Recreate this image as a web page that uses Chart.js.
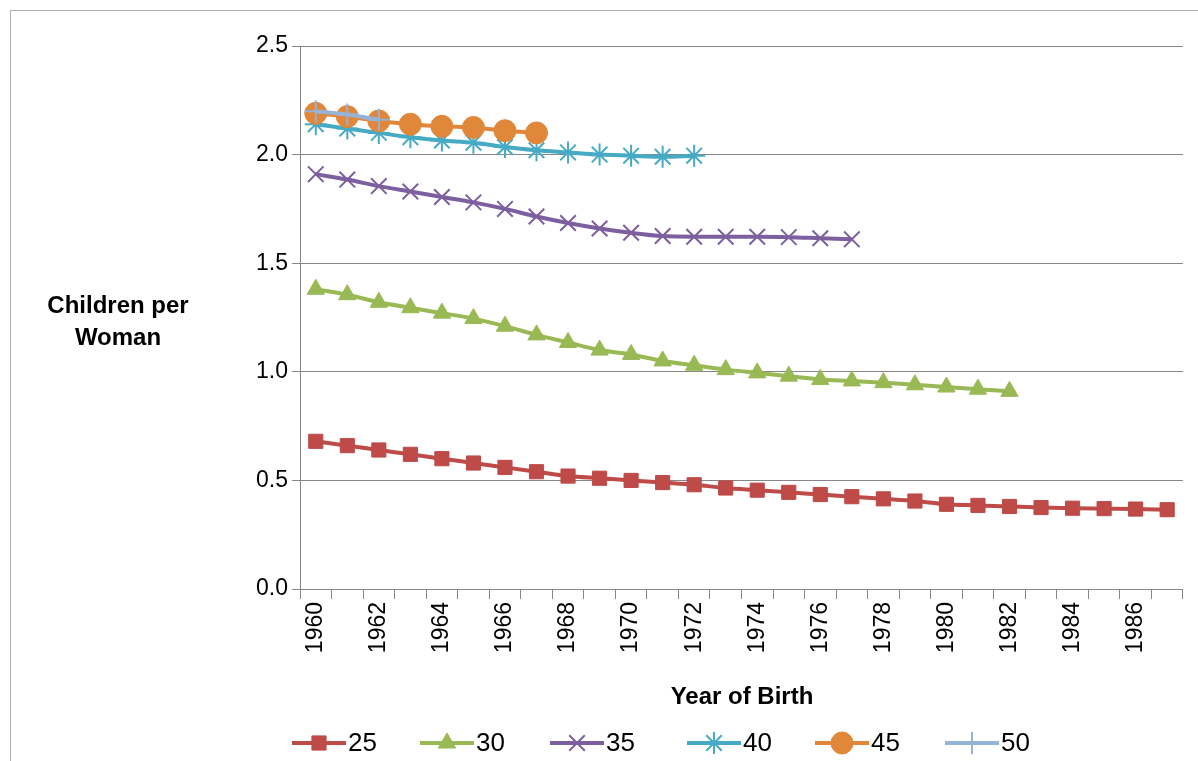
<!DOCTYPE html>
<html><head><meta charset="utf-8">
<script src="https://cdn.jsdelivr.net/npm/chart.js@4/dist/chart.umd.min.js"></script>
<style>html,body{margin:0;padding:0;background:#fff}#wrap{position:absolute;left:0;top:0;width:1198px;height:761px}
#frame{position:absolute;left:10px;top:10px;width:1188px;height:751px;border-left:1px solid #b0b0b0;border-top:1px solid #b0b0b0;pointer-events:none}</style>
</head><body><div id="wrap"><canvas id="c" width="1198" height="761"></canvas><div id="frame"></div></div>
<script>
const years = [];
for (let y = 1960; y <= 1987; y++) years.push(String(y));
const s25 = [0.68,0.66,0.64,0.62,0.60,0.58,0.56,0.54,0.52,0.51,0.50,0.49,0.48,0.465,0.455,0.445,0.435,0.425,0.415,0.405,0.39,0.385,0.38,0.375,0.372,0.37,0.368,0.365];
const s30 = [1.38,1.355,1.32,1.295,1.27,1.245,1.21,1.17,1.135,1.10,1.08,1.05,1.03,1.01,0.995,0.98,0.965,0.958,0.95,0.94,0.93,0.92,0.91];
const s35 = [1.91,1.885,1.855,1.83,1.805,1.78,1.75,1.715,1.685,1.66,1.64,1.625,1.622,1.622,1.622,1.62,1.615,1.61];
const s40 = [2.14,2.12,2.10,2.08,2.065,2.055,2.035,2.02,2.01,2.0,1.995,1.99,1.995];
const s45 = [2.19,2.175,2.155,2.14,2.13,2.125,2.11,2.10];
const s50 = [2.20,2.185,2.16];
const seriesNames = ['25','30','35','40','45','50'];
const yTicks = [0,0.5,1.0,1.5,2.0,2.5];

const colors = ['#BE4B48','#98B954','#7D5FA0','#46AAC5','#E0873A','#95B3D7'];
const styles = ['rect','triangle','crossRot','star','circle','cross'];
const radii = [10,10,11,11,11,11];
const data = [s25,s30,s35,s40,s45,s50];
const bw = i => (i==2||i==3||i==5)?2:1;
const datasets = data.map((d,i)=>({
  label: seriesNames[i], data: d, borderColor: colors[i], backgroundColor: colors[i],
  borderWidth: 4, pointStyle: styles[i], pointRadius: radii[i], pointBorderWidth: bw(i),
  pointBorderColor: colors[i], cubicInterpolationMode:'monotone', fill:false, order: 6-i
}));

const font = 'Arial, "Liberation Sans", sans-serif';
const deco = {
  id:'deco',
  afterDraw(chart){
    const ctx = chart.ctx;
    ctx.save();
    ctx.fillStyle = '#000';
    ctx.font = 'bold 24px ' + font;
    ctx.textAlign = 'center'; ctx.textBaseline = 'middle';
    ctx.fillText('Children per', 118, 306);
    ctx.fillText('Woman', 118, 338);
    ctx.fillText('Year of Birth', 742, 697);
    const xs = [292,420,550,687,815,945];
    const ly = 743;
    ctx.font = '26px ' + font; ctx.textAlign='left';
    xs.forEach((x,i)=>{
      ctx.strokeStyle = colors[i]; ctx.lineWidth = 4;
      ctx.beginPath(); ctx.moveTo(x,ly); ctx.lineTo(x+54,ly); ctx.stroke();
      ctx.fillStyle = colors[i]; ctx.strokeStyle=colors[i]; ctx.lineWidth = bw(i);
      Chart.helpers.drawPoint(ctx,{pointStyle:styles[i],radius:radii[i],borderWidth:bw(i)},x+27,ly);
      ctx.fillStyle = '#000';
      ctx.fillText(seriesNames[i], x+56, ly+1);
    });
    ctx.restore();
  }
};

new Chart(document.getElementById('c'), {
  type:'line',
  data:{labels: years, datasets},
  options:{
    responsive:false, animation:false,
    layout:{padding:{top:46,right:13,left:0,bottom:0}},
    plugins:{legend:{display:false}, tooltip:{enabled:false}},
    scales:{
      x:{
        offset:true,
        grid:{display:true, drawOnChartArea:false, offset:true, color:'#868686', tickLength:10, lineWidth:1},
        border:{color:'#868686', width:1},
        ticks:{color:'#000', font:{size:23, family:font}, maxRotation:90, minRotation:90, autoSkip:false,
          callback:function(v,i){ return i%2===0 ? this.getLabelForValue(v) : ''; }},
        afterFit(s){ s.height = 172; }
      },
      y:{
        min:0, max:2.5,
        afterBuildTicks(s){ s.ticks = yTicks.map(v=>({value:v})); },
        grid:{color:'#868686', tickLength:8, lineWidth:1},
        border:{color:'#868686', width:1},
        ticks:{color:'#000', font:{size:23, family:font}, padding:4, callback:v=>v.toFixed(1)},
        afterFit(s){ s.width = 300; }
      }
    }
  },
  plugins:[deco]
});
</script></body></html>
